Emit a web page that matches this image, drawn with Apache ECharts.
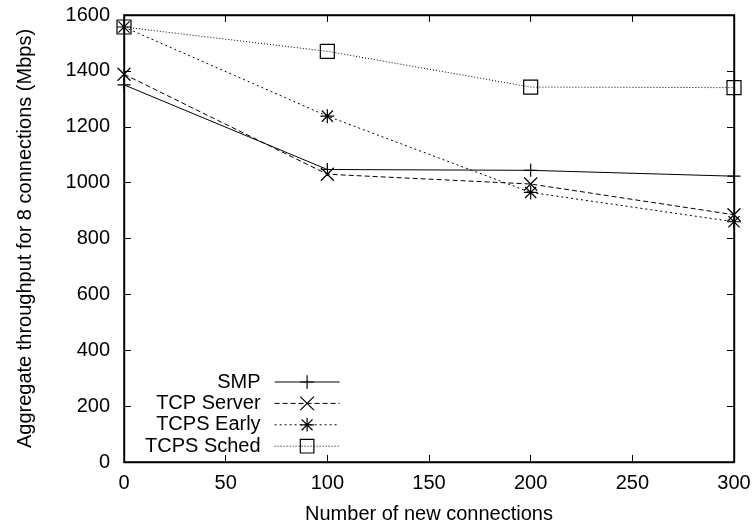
<!DOCTYPE html>
<html><head><meta charset="utf-8">
<script src="https://cdn.jsdelivr.net/npm/echarts@6/dist/echarts.min.js"></script>
<style>html,body{margin:0;padding:0;background:#fff}#c{width:756px;height:529px}</style>
</head><body><div id="c"></div>
<script>
const xValues = [0, 100, 200, 300];
const smp = [1350, 1047, 1044, 1023];
const tcpServer = [1388, 1030, 995, 885];
const tcpsEarly = [1557, 1238, 965, 860];
const tcpsSched = [1557, 1470, 1342, 1340];
const seriesNames = ['SMP', 'TCP Server', 'TCPS Early', 'TCPS Sched'];
const xTicks = [0, 50, 100, 150, 200, 250, 300];
const yTicks = [0, 200, 400, 600, 800, 1000, 1200, 1400, 1600];

const FONT = '"Liberation Sans", Arial, sans-serif';
const chart = echarts.init(document.getElementById('c'), null, {renderer: 'canvas'});
const pair = arr => arr.map((v, i) => [xValues[i], v]);
const symPlus = 'path://M0,-1L0,1M-1,0L1,0';
const symX = 'path://M-1,-1L1,1M-1,1L1,-1';
const symStar = 'path://M0,-1L0,1M-1,0L1,0M-0.8,-0.8L0.8,0.8M-0.8,0.8L0.8,-0.8';
const symSq = 'path://M-1,-1L1,-1L1,1L-1,1Z';
function mk(name, data, sym, size, dash) {
  return {
    name, type: 'line', data: pair(data), symbol: sym, symbolSize: size,
    clip: false, animation: false, showAllSymbol: true,
    lineStyle: {color: '#000', width: 1, type: dash},
    itemStyle: {color: 'transparent', borderColor: '#000', borderWidth: 1.2},
    emphasis: {disabled: true}
  };
}
const axisCommon = {
  axisLine: {show: true, onZero: false, lineStyle: {color: '#000', width: 1.4}},
  axisTick: {show: true, inside: true, length: 7, lineStyle: {color: '#000', width: 1}},
  splitLine: {show: false}
};
chart.setOption({
  backgroundColor: '#fff',
  animation: false,
  grid: {left: 124, right: 22, top: 15, bottom: 67, show: true, borderColor: '#000', borderWidth: 1.4, backgroundColor: 'transparent'},
  xAxis: [
    Object.assign({type: 'value', min: 0, max: 300, interval: 50, position: 'bottom',
      name: 'Number of new connections', nameLocation: 'middle', nameGap: 42,
      nameTextStyle: {fontFamily: FONT, fontSize: 20, color: '#000'},
      axisLabel: {fontFamily: FONT, fontSize: 20, color: '#000', margin: 11,
        formatter: v => xTicks.includes(v) ? String(v) : ''}}, axisCommon),
    Object.assign({type: 'value', min: 0, max: 300, interval: 50, position: 'top', show: true,
      axisLabel: {show: false}}, axisCommon)
  ],
  yAxis: [
    Object.assign({type: 'value', min: 0, max: 1600, interval: 200, position: 'left',
      name: 'Aggregate throughput for 8 connections (Mbps)', nameLocation: 'middle', nameGap: 89,
      nameTextStyle: {fontFamily: FONT, fontSize: 20, color: '#000'},
      axisLabel: {fontFamily: FONT, fontSize: 20, color: '#000', margin: 14,
        formatter: v => yTicks.includes(v) ? String(v) : ''}}, axisCommon),
    Object.assign({type: 'value', min: 0, max: 1600, interval: 200, position: 'right', show: true,
      axisLabel: {show: false}}, axisCommon)
  ],
  legend: {
    show: true, orient: 'vertical', align: 'right', left: 145, top: 372, padding: 0,
    itemWidth: 65, itemHeight: 17, itemGap: 1.4,
    data: seriesNames,
    lineStyle: {width: 1},
    itemStyle: {borderWidth: 1.2},
    textStyle: {fontFamily: FONT, fontSize: 20, lineHeight: 20, color: '#000', padding: [0, 9, 0, 0]},
    selectedMode: false
  },
  series: [
    mk(seriesNames[0], smp, symPlus, 13, 'solid'),
    mk(seriesNames[1], tcpServer, symX, 13, [5, 3]),
    mk(seriesNames[2], tcpsEarly, symStar, 14, [2, 3]),
    mk(seriesNames[3], tcpsSched, symSq, 14, [1, 2]),
    {type: 'line', name: 'mirror', xAxisIndex: 1, yAxisIndex: 1, data: [], silent: true, symbol: 'none'}
  ]
});
</script></body></html>
